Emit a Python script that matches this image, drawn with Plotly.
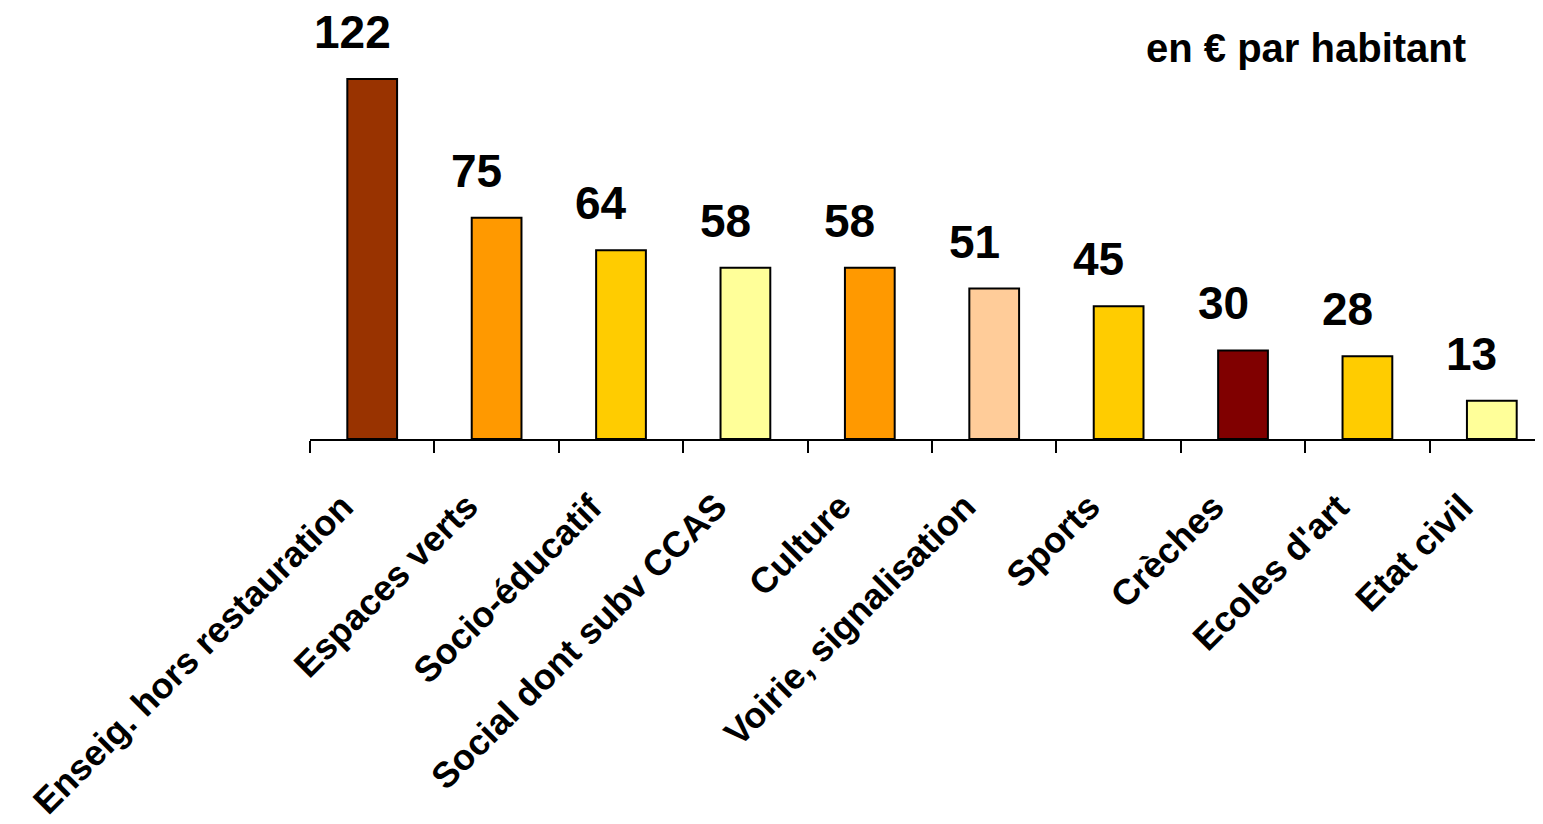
import plotly.graph_objects as go

categories = [
    "Enseig. hors restauration",
    "Espaces verts",
    "Socio-éducatif",
    "Social dont subv CCAS",
    "Culture",
    "Voirie, signalisation",
    "Sports",
    "Crèches",
    "Ecoles d'art",
    "Etat civil",
]
values = [122, 75, 64, 58, 58, 51, 45, 30, 28, 13]
bar_colors = [
    "#993300", "#FF9900", "#FFCC00", "#FFFF99", "#FF9900",
    "#FFCC99", "#FFCC00", "#800000", "#FFCC00", "#FFFF99",
]
unit_note = "en € par habitant"

FONT = "Liberation Sans, Arial, sans-serif"

fig = go.Figure()
fig.add_trace(
    go.Bar(
        x=categories,
        y=values,
        width=0.4,
        marker=dict(color=bar_colors, line=dict(color="black", width=2)),
        hoverinfo="skip",
    )
)

annotations = []
for cat, v in zip(categories, values):
    # value above the bar (slightly left of centre, as in the original)
    annotations.append(
        dict(
            x=cat, y=v, xref="x", yref="y",
            text=f"<b>{v}</b>",
            showarrow=False,
            xanchor="center", yanchor="bottom",
            xshift=-20, yshift=19,
            font=dict(family=FONT, size=46, color="black"),
        )
    )
    # rotated category label under the axis
    annotations.append(
        dict(
            x=cat, y=0, xref="x", yref="y",
            text=f"<b>{cat}</b>",
            showarrow=False,
            textangle=-45,
            xanchor="right", yanchor="top",
            xshift=-8, yshift=-44,
            font=dict(family=FONT, size=36, color="black"),
        )
    )
annotations.append(
    dict(
        x=0.7974, y=0.907, xref="paper", yref="paper",
        text=f"<b>{unit_note}</b>",
        showarrow=False,
        xanchor="center", yanchor="middle",
        font=dict(family=FONT, size=40, color="black"),
    )
)

fig.update_layout(
    width=1551,
    height=824,
    margin=dict(l=302, r=0, t=0, b=393),
    paper_bgcolor="white",
    plot_bgcolor="white",
    showlegend=False,
    annotations=annotations,
    xaxis=dict(
        type="category",
        range=[-0.5, 9.54],
        showticklabels=False,
        tickson="boundaries",
        ticks="outside",
        ticklen=12,
        tickwidth=1.5,
        tickcolor="black",
        showline=True,
        linecolor="black",
        linewidth=1.5,
        showgrid=False,
        zeroline=False,
        fixedrange=True,
    ),
    yaxis=dict(
        range=[0, 146.05],
        visible=False,
        showgrid=False,
        zeroline=False,
        fixedrange=True,
    ),
)

fig.write_html("out.html")
